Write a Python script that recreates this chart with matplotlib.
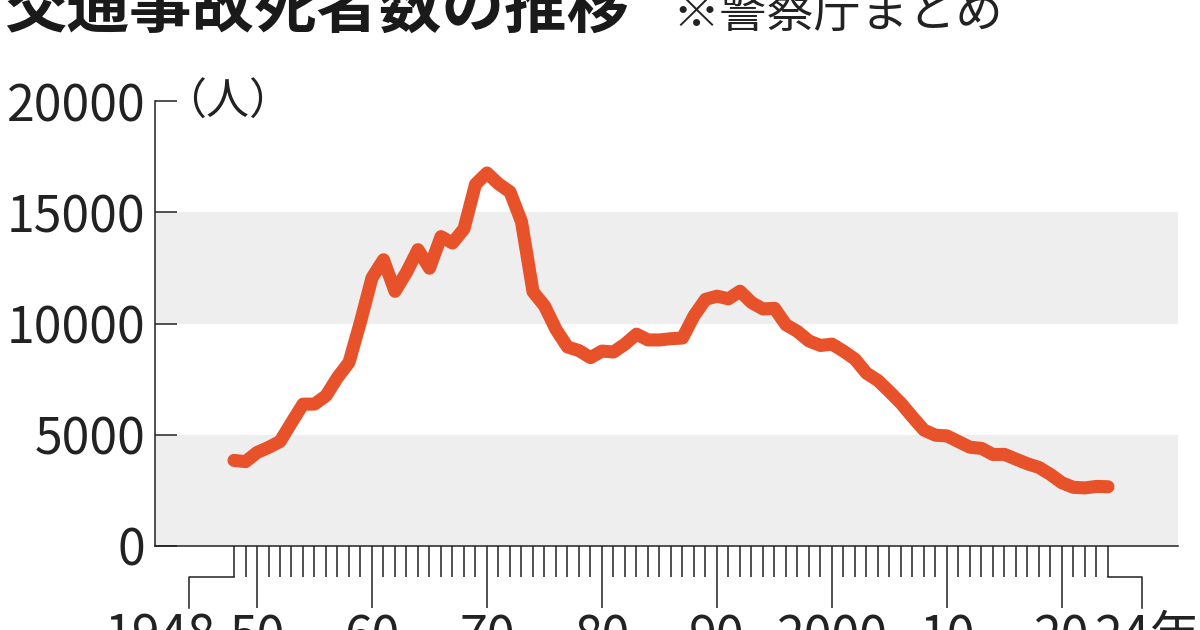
import numpy as np
import matplotlib
matplotlib.use('Agg')
import matplotlib.pyplot as plt
import matplotlib.transforms as mtransforms

plt.rcParams['font.family'] = ['Noto Sans CJK JP', 'DejaVu Sans']

# traffic deaths per year
years = list(range(1948, 2025))
deaths = [3848, 3790, 4202, 4429, 4696, 5544, 6374, 6379, 6751, 7575,
          8248, 10079, 12055, 12865, 11445, 12301, 13318, 12484, 13904, 13618,
          14256, 16257, 16765, 16278, 15918, 14574, 11432, 10792, 9734, 8945,
          8783, 8466, 8760, 8719, 9073, 9520, 9262, 9261, 9317, 9347,
          10344, 11086, 11227, 11109, 11452, 10945, 10653, 10684, 9943, 9642,
          9214, 9012, 9073, 8757, 8396, 7768, 7436, 6937, 6415, 5796,
          5209, 4979, 4948, 4691, 4438, 4388, 4113, 4117, 3904, 3694,
          3532, 3215, 2839, 2636, 2610, 2678, 2663]

y_ticks = [0, 5000, 10000, 15000, 20000]
gray_bands = [(0, 5000), (10000, 15000)]
decade_ticks = [1950, 1960, 1970, 1980, 1990, 2000, 2010, 2020]
decade_labels = ['50', '60', '70', '80', '90', '2000', '10', '20']

title = '交通事故死者数の推移'
source = '※警察庁まとめ'
unit = '（人）'

W, H = 1200, 630
fig = plt.figure(figsize=(W / 100, H / 100), dpi=100)
ax = fig.add_axes([155 / W, (H - 546) / H, (1178 - 155) / W, (546 - 101) / H])

ink = '#222222'
red = '#E8522B'
lab_size = 36

for lo, hi in gray_bands:
    ax.axhspan(lo, hi, color='#EEEEEE', lw=0, zorder=0)

ax.plot(years, deaths, color=red, lw=9.4, solid_capstyle='round',
        solid_joinstyle='round', zorder=3)

ax.set_xlim(1941.13, 2030.09)
ax.set_ylim(0, 20000)

for s in ['top', 'right']:
    ax.spines[s].set_visible(False)
for s in ['left', 'bottom']:
    ax.spines[s].set_color(ink)
    ax.spines[s].set_linewidth(1.1)

ax.set_yticks(y_ticks)
ax.set_yticklabels([str(v) for v in y_ticks])
ax.tick_params(axis='y', direction='in', length=15.8, width=1.1, color=ink,
               labelsize=lab_size, pad=7, labelcolor=ink)

ax.set_xticks(decade_ticks)
ax.set_xticklabels(decade_labels)
ax.set_xticks([y for y in years if y not in decade_ticks], minor=True)
ax.tick_params(axis='x', which='major', direction='out', length=44.6, width=1.1,
               color=ink, labelsize=lab_size, pad=3.6, labelcolor=ink)
ax.tick_params(axis='x', which='minor', direction='out', length=22.3, width=1.1,
               color=ink)

# brackets for first and last year
trans = mtransforms.blended_transform_factory(ax.transData, ax.transAxes)
y1 = (546 - 577) / 445
y2 = (546 - 608) / 445
ax.plot([1948, 1944.1, 1944.1], [y1, y1, y2], color=ink, lw=1.1,
        transform=trans, clip_on=False)
ax.plot([2024, 2027.0, 2027.0], [y1, y1, y2], color=ink, lw=1.1,
        transform=trans, clip_on=False)
lab_y = (546 - 612) / 445
ax.text(1941.6, lab_y, '1948', transform=trans, ha='center', va='top',
        fontsize=lab_size, color=ink)
ax.text(2022.9, lab_y, '24年', transform=trans, ha='left', va='top',
        fontsize=lab_size, color=ink)

fig.text(4 / W, (H - 27) / H, title, fontsize=45, fontweight='bold',
         color='#1a1a1a', ha='left', va='baseline')
fig.text(672 / W, (H - 27) / H, source, fontsize=34, color=ink,
         ha='left', va='baseline')
fig.text(163 / W, (H - 103) / H, unit, fontsize=31, color=ink,
         ha='left', va='center')

fig.savefig('out.png', dpi=100)
